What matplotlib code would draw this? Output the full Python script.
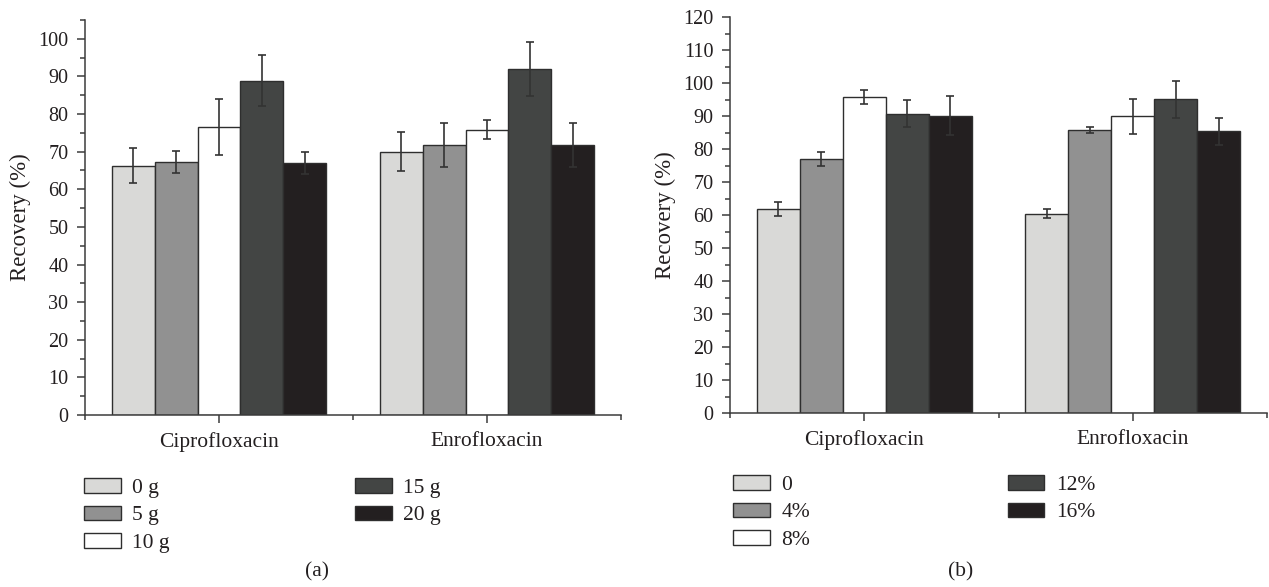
import matplotlib
matplotlib.use("Agg")
import matplotlib.pyplot as plt
import numpy as np
from matplotlib.ticker import MultipleLocator, FixedLocator
from matplotlib.patches import Patch

plt.rcParams['font.family'] = ['Liberation Serif', 'DejaVu Serif']

categories = ["Ciprofloxacin", "Enrofloxacin"]

labels_a = ["0 g", "5 g", "10 g", "15 g", "20 g"]
values_a = [[66.3, 70.0], [67.3, 71.7], [76.5, 75.8], [88.9, 92.0], [67.0, 71.7]]
errors_a = [[4.6, 5.1], [2.9, 5.8], [7.5, 2.5], [6.7, 7.1], [3.0, 5.8]]

labels_b = ["0", "4%", "8%", "12%", "16%"]
values_b = [[61.9, 60.5], [77.0, 85.9], [95.9, 90.0], [90.8, 95.1], [90.1, 85.5]]
errors_b = [[2.1, 1.5], [2.1, 0.9], [2.1, 5.3], [4.1, 5.6], [5.9, 4.1]]

colors = ["#d9d9d7", "#919191", "#ffffff", "#434544", "#231f20"]
edge = "#2e2e2e"
spine_c = "#3c3c3c"
text_c = "#231f20"

W, H = 1269, 587
fig = plt.figure(figsize=(W / 100, H / 100), dpi=100)

def px_axes(x0, y_top, x1, y_bot):
    return [x0 / W, (H - y_bot) / H, (x1 - x0) / W, (y_bot - y_top) / H]

def draw_panel(ax, labels, values, errors, ymax, ymajor_max):
    xs = np.arange(1, len(categories) + 1)
    bw = 0.16
    for i, (lab, vals, errs) in enumerate(zip(labels, values, errors)):
        pos = xs + (i - 2) * bw
        ax.bar(pos, vals, width=bw, color=colors[i], edgecolor=edge, linewidth=1.0, zorder=2)
        ax.errorbar(pos, vals, yerr=errs, fmt='none', ecolor="#333333", elinewidth=1.2,
                    capsize=3, capthick=1.2, zorder=3)
    ax.set_xlim(0.5, 2.5)
    ax.set_ylim(0, ymax)
    ax.set_xticks(xs)
    ax.set_xticklabels(categories)
    ax.xaxis.set_minor_locator(FixedLocator([0.5, 1.5, 2.5]))
    ax.set_yticks(np.arange(0, ymajor_max + 1, 10))
    ax.yaxis.set_minor_locator(MultipleLocator(5))
    ax.tick_params(axis='both', which='major', direction='out', length=6, width=1.1,
                   color=spine_c, labelsize=14.5, pad=6, labelcolor=text_c)
    ax.tick_params(axis='both', which='minor', direction='out', length=3.5, width=1.1, color=spine_c)
    ax.tick_params(axis='x', which='major', labelsize=15.5, pad=6)
    for s in ['top', 'right']:
        ax.spines[s].set_visible(False)
    for s in ['left', 'bottom']:
        ax.spines[s].set_color(spine_c)
        ax.spines[s].set_linewidth(1.1)
    ax.set_ylabel("Recovery (%)", fontsize=16.5, color=text_c)
    ax.yaxis.set_label_coords(-0.1, 0.5)

ax1 = fig.add_axes(px_axes(85, 20, 621, 415))
draw_panel(ax1, labels_a, values_a, errors_a, 105, 100)
ax2 = fig.add_axes(px_axes(730, 17.3, 1267, 413))
draw_panel(ax2, labels_b, values_b, errors_b, 120, 120)

def add_legend(labels, cols, x_px, y_px):
    handles = [Patch(facecolor=c, edgecolor=edge, linewidth=1.0, label=l)
               for l, c in zip(labels, cols)]
    leg = fig.legend(handles=handles, loc='upper left',
                     bbox_to_anchor=(x_px / W, 1 - y_px / H), bbox_transform=fig.transFigure,
                     frameon=False, fontsize=15.5, handlelength=1.7, handleheight=0.66,
                     handletextpad=0.55, labelspacing=0.36, borderpad=0, borderaxespad=0)
    for t in leg.get_texts():
        t.set_color(text_c)
    return leg

add_legend(labels_a[:3], colors[:3], 84, 478)
add_legend(labels_a[3:], colors[3:], 355, 478)
add_legend(labels_b[:3], colors[:3], 733, 475)
add_legend(labels_b[3:], colors[3:], 1007.5, 475)

fig.text(317 / W, 1 - 572 / H, "(a)", ha='center', va='center', fontsize=15.5, color=text_c)
fig.text(961 / W, 1 - 572 / H, "(b)", ha='center', va='center', fontsize=15.5, color=text_c)

fig.savefig("out.png", dpi=100)
